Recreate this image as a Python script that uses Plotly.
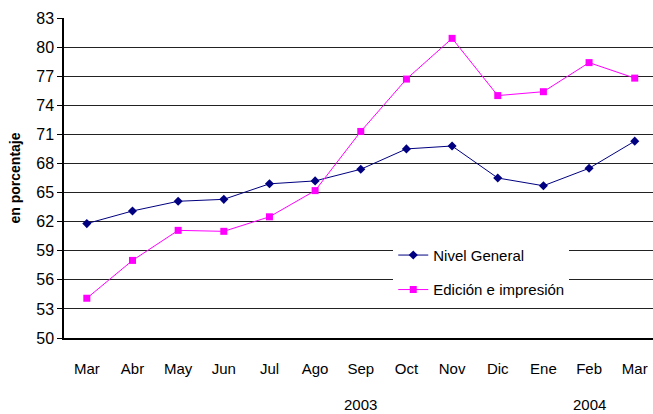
import plotly.graph_objects as go

months = ["Mar", "Abr", "May", "Jun", "Jul", "Ago", "Sep", "Oct", "Nov", "Dic", "Ene", "Feb", "Mar"]
nivel_general = [61.8, 63.1, 64.1, 64.3, 65.9, 66.2, 67.4, 69.5, 69.8, 66.5, 65.7, 67.5, 70.3]
edicion = [54.1, 58.0, 61.1, 61.0, 62.5, 65.2, 71.3, 76.7, 80.9, 75.0, 75.4, 78.4, 76.8]
y_ticks = [50, 53, 56, 59, 62, 65, 68, 71, 74, 77, 80, 83]
years = ["2003", "2004"]
year_pos = [6, 11]

x_idx = list(range(len(months)))
FONT = "Liberation Sans, Arial, sans-serif"

fig = go.Figure()
fig.add_trace(go.Scatter(
    x=x_idx, y=nivel_general, name="Nivel General", mode="lines+markers",
    line=dict(color="#000080", width=1),
    marker=dict(symbol="diamond", size=7, color="#000080"),
    legendgroup="a",
))
fig.add_trace(go.Scatter(
    x=x_idx, y=edicion, name="Edición e impresión", mode="lines+markers",
    line=dict(color="#FF00FF", width=1),
    marker=dict(symbol="square", size=7, color="#FF00FF"),
    legendgroup="b",
))

for yr, p in zip(years, year_pos):
    fig.add_annotation(x=p, y=-0.175, xref="x", yref="paper", text=yr,
                       showarrow=False, yanchor="top",
                       font=dict(family=FONT, size=15, color="black"))

fig.update_layout(
    width=653, height=414,
    margin=dict(l=64, r=0, t=18, b=76),
    paper_bgcolor="white", plot_bgcolor="white",
    font=dict(family=FONT, size=15, color="black"),
    showlegend=True,
    legend=dict(x=0.559, y=0.31, xanchor="left", yanchor="top",
                bgcolor="white", borderwidth=0,
                font=dict(family=FONT, size=15, color="black"),
                tracegroupgap=12),
    xaxis=dict(
        range=[-0.5, 12.4], tickmode="array", tickvals=x_idx, ticktext=months,
        showgrid=False, zeroline=False, showline=True, linecolor="black", linewidth=2,
        ticks="outside", ticklen=0, ticklabelstandoff=16, automargin=False,
        tickfont=dict(family=FONT, size=15, color="black"),
    ),
    yaxis=dict(
        range=[50, 83], tickmode="array", tickvals=y_ticks,
        showgrid=True, gridcolor="#222222", gridwidth=1,
        zeroline=False, showline=True, linecolor="black", linewidth=1.5,
        ticks="outside", ticklen=5, tickcolor="black", automargin=False,
        tickfont=dict(family=FONT, size=16, color="black"),
        title=dict(text="<b>en porcentaje</b>", standoff=12,
                   font=dict(family=FONT, size=14, color="black")),
    ),
)

fig.write_html("out.html",
               config={"displayModeBar": False},
               post_script="document.body.style.margin='0';document.body.style.overflow='hidden';")
